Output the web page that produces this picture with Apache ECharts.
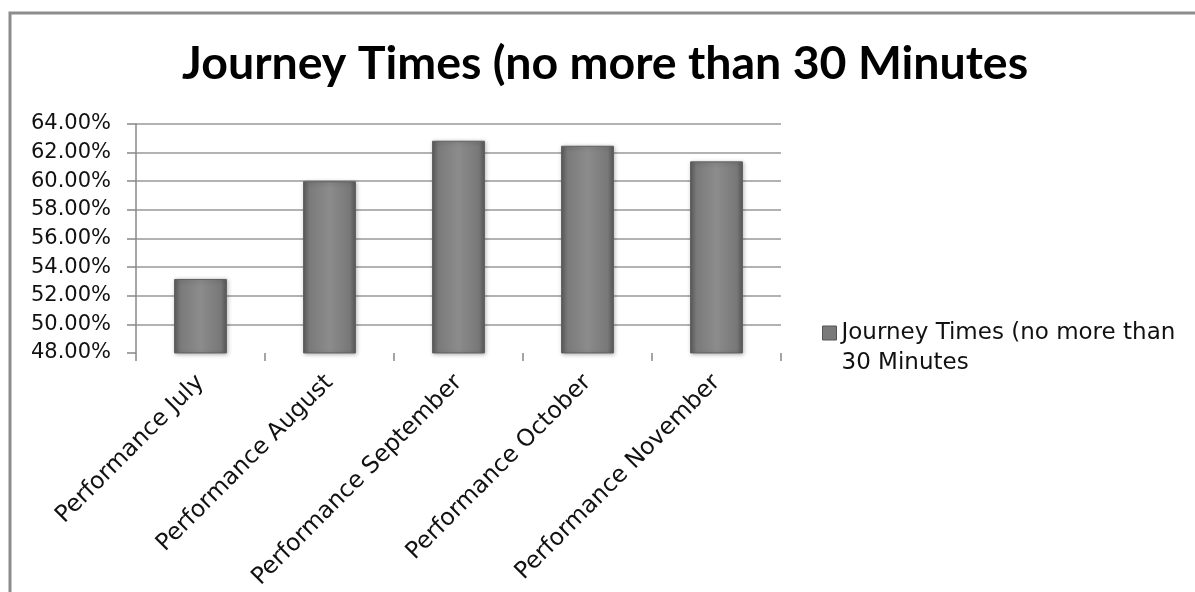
<!DOCTYPE html>
<html>
<head>
<meta charset="utf-8">
<script src="https://cdn.jsdelivr.net/npm/echarts@6/dist/echarts.min.js"></script>
<style>
html,body{margin:0;padding:0;background:#fff;}
#chart{width:1195px;height:592px;}
</style>
</head>
<body>
<div id="chart"></div>
<script>
const titleText = 'Journey Times (no more than 30 Minutes';
const seriesName = 'Journey Times (no more than 30 Minutes';
const categories = ['Performance July', 'Performance August', 'Performance September', 'Performance October', 'Performance November'];
const values = [0.5317, 0.6000, 0.6283, 0.6248, 0.6139];
const yMin = 0.48, yMax = 0.64, yStep = 0.02;

const chart = echarts.init(document.getElementById('chart'));
chart.setOption({
  animation: false,
  backgroundColor: '#ffffff',
  title: {
    text: titleText,
    left: 182,
    top: 40,
    padding: 0,
    textStyle: {fontFamily: 'Lato', fontWeight: 'bold', fontSize: 46.5, color: '#000'}
  },
  graphic: [{
    type: 'polyline',
    shape: {points: [[10, 600], [10, 13], [1200, 13]]},
    style: {stroke: '#8c8c8c', lineWidth: 3, fill: null},
    silent: true
  }],
  legend: {
    left: 822,
    top: 288,
    padding: 0,
    itemWidth: 14,
    itemHeight: 14,
    icon: 'rect',
    itemStyle: {color: '#7a7a7a', borderColor: '#555', borderWidth: 1},
    formatter: function (n) { return '\nJourney Times (no more than\n30 Minutes'; },
    textStyle: {fontFamily: 'DejaVu Sans', fontSize: 23, color: '#111', lineHeight: 30}
  },
  grid: {left: 136, right: 414, top: 124, bottom: 237.5, containLabel: false},
  xAxis: {
    type: 'category',
    data: categories,
    axisLine: {show: false},
    axisTick: {show: true, length: 8, lineStyle: {color: '#888', width: 1.5}},
    axisLabel: {rotate: 45, margin: 26, fontFamily: 'DejaVu Sans', fontSize: 23.5, color: '#111', interval: 0}
  },
  yAxis: {
    type: 'value',
    min: yMin,
    max: yMax,
    interval: yStep,
    axisLine: {show: true, lineStyle: {color: '#888', width: 1.5}},
    axisTick: {show: true, length: 9, lineStyle: {color: '#888', width: 1.5}},
    splitLine: {show: true, showMinLine: false, lineStyle: {color: '#999', width: 1.5}},
    axisLabel: {
      margin: 25,
      fontFamily: 'DejaVu Sans', fontSize: 21, color: '#111',
      formatter: function (v) { return (v * 100).toFixed(2) + '%'; }
    }
  },
  series: [{
    name: seriesName,
    type: 'bar',
    data: values,
    barWidth: '41%',
    itemStyle: {
      color: new echarts.graphic.LinearGradient(0, 0, 1, 0, [
        {offset: 0, color: '#5c5c5c'},
        {offset: 0.12, color: '#7a7a7a'},
        {offset: 0.5, color: '#8c8c8c'},
        {offset: 0.88, color: '#787878'},
        {offset: 1, color: '#585858'}
      ]),
      borderColor: '#606060',
      borderWidth: 1,
      shadowColor: 'rgba(0,0,0,0.3)',
      shadowBlur: 4,
      shadowOffsetX: 1,
      shadowOffsetY: 1
    }
  }]
});
</script>
</body>
</html>
